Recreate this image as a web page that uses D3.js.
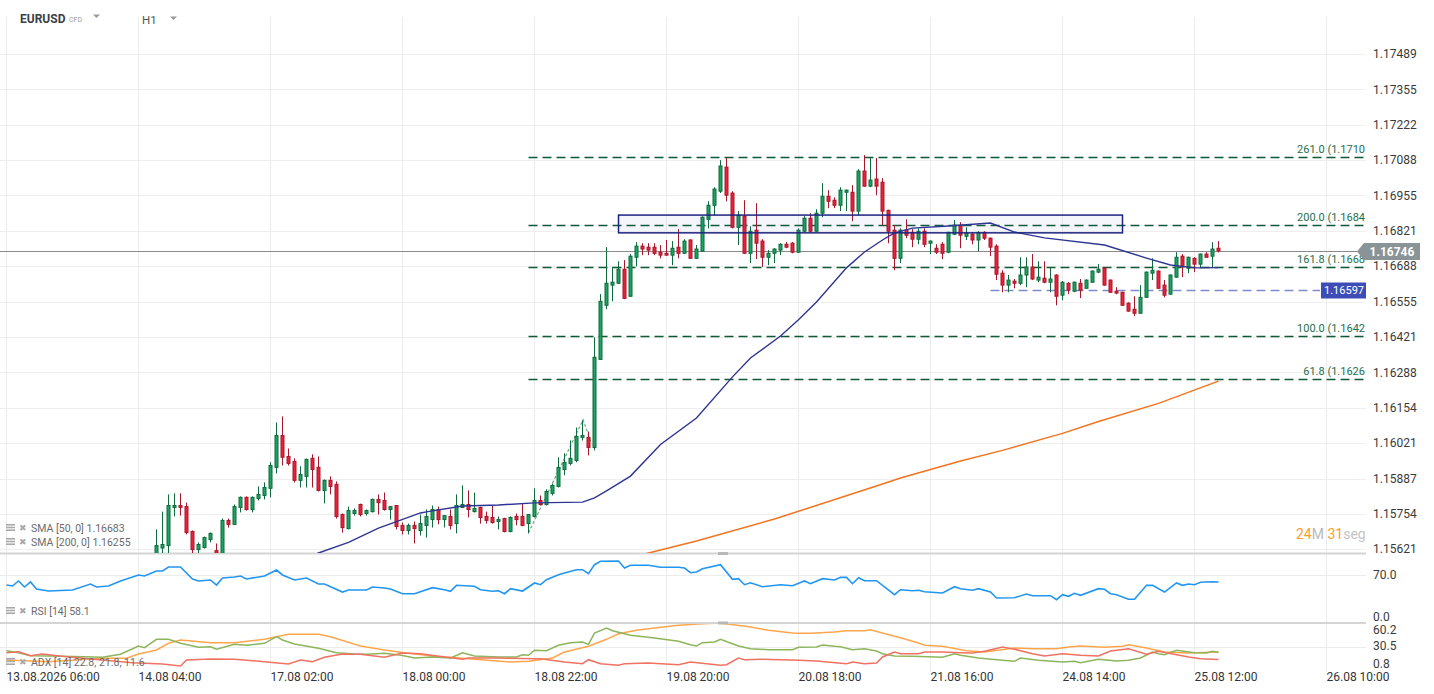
<!DOCTYPE html>
<html>
<head>
<meta charset="utf-8">
<script src="https://cdnjs.cloudflare.com/ajax/libs/d3/7.8.5/d3.min.js"></script>
<style>
  body { margin: 0; background: #fff; }
  svg text { font-family: Roboto, "Noto Sans", sans-serif; }
</style>
</head>
<body>
<svg id="chart" width="1434" height="694"></svg>
<script>

// ---- data ----
// hourly candles, first one sits at bar index 25 (13.08 06:00 = bar 0)
var firstBar = 25;
var opens = [1.15578,1.15626,1.15635,1.15779,1.15786,1.15782,1.15688,1.15620,1.15628,1.15658,
  1.15616,1.15586,1.15730,1.15715,1.15779,1.15817,1.15771,1.15813,1.15824,1.15851,
  1.15930,1.16050,1.15971,1.15952,1.15881,1.15896,1.15964,1.15930,1.15843,1.15881,
  1.15866,1.15752,1.15699,1.15756,1.15790,1.15756,1.15763,1.15809,1.15805,1.15771,
  1.15786,1.15711,1.15692,1.15711,1.15692,1.15711,1.15733,1.15771,1.15733,1.15745,
  1.15718,1.15779,1.15790,1.15763,1.15779,1.15745,1.15741,1.15726,1.15737,1.15688,
  1.15745,1.15745,1.15718,1.15745,1.15805,1.15790,1.15832,1.15858,1.15922,1.15945,
  1.15956,1.16043,1.16043,1.16005,1.16337,1.16541,1.16617,1.16624,1.16677,1.16575,
  1.16722,1.16764,1.16760,1.16760,1.16741,1.16737,1.16730,1.16760,1.16737,1.16787,
  1.16718,1.16745,1.16865,1.16918,1.16971,1.17062,1.16964,1.16835,1.16877,1.16737,
  1.16824,1.16783,1.16722,1.16737,1.16749,1.16771,1.16775,1.16741,1.16820,1.16869,
  1.16820,1.16888,1.16952,1.16937,1.16918,1.16967,1.16967,1.16896,1.17047,1.16990,
  1.17017,1.17005,1.16899,1.16824,1.16718,1.16824,1.16816,1.16790,1.16820,1.16775,
  1.16756,1.16771,1.16741,1.16809,1.16843,1.16801,1.16809,1.16787,1.16816,1.16794,
  1.16764,1.16662,1.16617,1.16632,1.16624,1.16655,1.16685,1.16636,1.16643,1.16628,
  1.16655,1.16579,1.16624,1.16594,1.16624,1.16605,1.16628,1.16666,1.16681,1.16636,
  1.16594,1.16590,1.16549,1.16526,1.16511,1.16571,1.16662,1.16670,1.16617,1.16583,
  1.16647,1.16726,1.16681,1.16718,1.16696,1.16734,1.16726,1.16756];
var highs = [1.15696,1.15763,1.15828,1.15832,1.15832,1.15797,1.15692,1.15647,1.15669,1.15684,
  1.15643,1.15737,1.15737,1.15790,1.15820,1.15820,1.15820,1.15858,1.15873,1.15949,
  1.16099,1.16122,1.16001,1.15964,1.15934,1.15963,1.15979,1.15971,1.15884,1.15896,
  1.15877,1.15756,1.15782,1.15775,1.15793,1.15771,1.15812,1.15828,1.15835,1.15784,
  1.15788,1.15722,1.15718,1.15726,1.15752,1.15771,1.15786,1.15782,1.15750,1.15771,
  1.15828,1.15862,1.15843,1.15835,1.15782,1.15763,1.15786,1.15745,1.15740,1.15745,
  1.15756,1.15794,1.15754,1.15851,1.15824,1.15847,1.15869,1.15968,1.15983,1.16031,
  1.16080,1.16107,1.16065,1.16420,1.16583,1.16760,1.16685,1.16707,1.16711,1.16734,
  1.16779,1.16775,1.16775,1.16775,1.16768,1.16787,1.16783,1.16828,1.16790,1.16790,
  1.16768,1.16876,1.16933,1.16986,1.17088,1.17096,1.16971,1.16896,1.16937,1.16839,
  1.16926,1.16790,1.16749,1.16756,1.16775,1.16779,1.16779,1.16831,1.16877,1.16888,
  1.16903,1.17001,1.16975,1.16948,1.16986,1.16977,1.16994,1.17054,1.17107,1.17096,
  1.17096,1.17020,1.16901,1.16843,1.16831,1.16865,1.16828,1.16831,1.16831,1.16785,
  1.16771,1.16779,1.16818,1.16862,1.16854,1.16835,1.16816,1.16820,1.16820,1.16796,
  1.16771,1.16673,1.16655,1.16640,1.16722,1.16722,1.16734,1.16707,1.16707,1.16681,
  1.16658,1.16632,1.16628,1.16630,1.16640,1.16638,1.16672,1.16696,1.16683,1.16638,
  1.16609,1.16592,1.16552,1.16575,1.16617,1.16668,1.16718,1.16672,1.16636,1.16657,
  1.16741,1.16734,1.16724,1.16722,1.16736,1.16741,1.16779,1.16783];
var lows = [1.15541,1.15559,1.15605,1.15745,1.15748,1.15677,1.15605,1.15605,1.15624,1.15647,
  1.15571,1.15571,1.15703,1.15715,1.15760,1.15767,1.15760,1.15805,1.15809,1.15817,
  1.15907,1.15937,1.15937,1.15873,1.15854,1.15854,1.15854,1.15839,1.15794,1.15828,
  1.15737,1.15684,1.15696,1.15748,1.15745,1.15748,1.15760,1.15752,1.15767,1.15733,
  1.15696,1.15677,1.15677,1.15643,1.15673,1.15665,1.15703,1.15715,1.15703,1.15696,
  1.15681,1.15776,1.15741,1.15760,1.15718,1.15718,1.15718,1.15696,1.15685,1.15685,
  1.15711,1.15708,1.15681,1.15741,1.15786,1.15786,1.15824,1.15854,1.15900,1.15937,
  1.15949,1.16031,1.15975,1.15994,1.16335,1.16526,1.16556,1.16621,1.16564,1.16572,
  1.16688,1.16730,1.16730,1.16730,1.16718,1.16728,1.16692,1.16718,1.16734,1.16716,
  1.16715,1.16743,1.16831,1.16880,1.16964,1.16933,1.16831,1.16768,1.16735,1.16700,
  1.16715,1.16685,1.16692,1.16700,1.16730,1.16756,1.16737,1.16739,1.16818,1.16818,
  1.16818,1.16873,1.16907,1.16907,1.16896,1.16896,1.16858,1.16880,1.16988,1.16986,
  1.16956,1.16843,1.16775,1.16673,1.16700,1.16794,1.16760,1.16771,1.16760,1.16734,
  1.16734,1.16715,1.16737,1.16805,1.16756,1.16787,1.16771,1.16745,1.16787,1.16726,
  1.16636,1.16590,1.16590,1.16605,1.16617,1.16609,1.16636,1.16628,1.16624,1.16590,
  1.16541,1.16560,1.16583,1.16590,1.16568,1.16603,1.16626,1.16662,1.16615,1.16588,
  1.16583,1.16539,1.16517,1.16500,1.16509,1.16569,1.16636,1.16603,1.16571,1.16581,
  1.16645,1.16647,1.16662,1.16666,1.16681,1.16720,1.16681,1.16740];
var closes = [1.15635,1.15639,1.15786,1.15786,1.15779,1.15684,1.15620,1.15639,1.15665,1.15681,
  1.15586,1.15730,1.15715,1.15782,1.15817,1.15771,1.15817,1.15828,1.15854,1.15937,
  1.16050,1.15968,1.15945,1.15881,1.15903,1.15960,1.15922,1.15843,1.15881,1.15858,
  1.15745,1.15703,1.15767,1.15767,1.15752,1.15767,1.15809,1.15797,1.15771,1.15782,
  1.15707,1.15692,1.15711,1.15699,1.15718,1.15745,1.15771,1.15733,1.15748,1.15711,
  1.15786,1.15790,1.15771,1.15775,1.15741,1.15730,1.15722,1.15733,1.15688,1.15741,
  1.15733,1.15711,1.15752,1.15805,1.15790,1.15839,1.15862,1.15930,1.15949,1.15964,
  1.16046,1.16050,1.16005,1.16345,1.16556,1.16624,1.16628,1.16677,1.16567,1.16726,
  1.16764,1.16753,1.16749,1.16737,1.16730,1.16730,1.16756,1.16737,1.16783,1.16718,
  1.16753,1.16873,1.16918,1.16979,1.17066,1.16956,1.16835,1.16880,1.16737,1.16820,
  1.16775,1.16722,1.16737,1.16753,1.16771,1.16760,1.16741,1.16824,1.16869,1.16820,
  1.16888,1.16952,1.16933,1.16918,1.16975,1.16975,1.16896,1.17047,1.16990,1.17013,
  1.16990,1.16896,1.16820,1.16718,1.16824,1.16805,1.16790,1.16820,1.16771,1.16783,
  1.16741,1.16737,1.16816,1.16843,1.16805,1.16812,1.16787,1.16816,1.16794,1.16760,
  1.16658,1.16617,1.16636,1.16624,1.16655,1.16685,1.16640,1.16647,1.16628,1.16640,
  1.16575,1.16628,1.16598,1.16628,1.16598,1.16636,1.16670,1.16677,1.16617,1.16590,
  1.16587,1.16541,1.16519,1.16511,1.16571,1.16666,1.16673,1.16605,1.16579,1.16655,
  1.16722,1.16685,1.16722,1.16696,1.16734,1.16722,1.16753,1.16746];

// moving averages, [bar, price]
var sma50 = [[50,1.15588],[52,1.15607],[57,1.15647],[62,1.15701],[69,1.15758],[70,1.15762],
  [76,1.15784],[82,1.15788],[88,1.15796],[96,1.15799],[98,1.15815],[100,1.15841],[104,1.15897],
  [109,1.16016],[115,1.16116],[121,1.16271],[124,1.16342],[129,1.16425],[132,1.16486],
  [135,1.16553],[140,1.16682],[143,1.16742],[146,1.16787],[148,1.16814],[151,1.16832],
  [157,1.16840],[164,1.16851],[168,1.16817],[173,1.16795],[183,1.16768],[190,1.16719],
  [194,1.16693],[198,1.16682],[202,1.16683]];
var sma200 = [[104,1.15590],[107,1.15607],[115,1.15652],[128,1.15735],[146,1.15867],
  [149,1.15890],[159,1.15954],[166,1.15994],[176,1.16058],[182,1.16103],[192,1.16171],
  [202,1.16255]];

// RSI(14), [bar, value]
var rsi = [[0,53.2],[1,51.6],[2,59.7],[3,50.0],[4,58.1],[5,46.8],[7,43.5],[11,45.2],[14,54.8],
  [15,50.0],[17,51.6],[19,59.7],[22,69.4],[23,67.7],[25,75.8],[26,75.8],[27,82.3],[29,82.3],
  [31,62.9],[32,59.7],[34,61.3],[35,53.2],[36,64.5],[38,66.1],[39,67.7],[40,62.9],[43,67.7],
  [45,77.4],[46,69.4],[48,61.3],[50,64.5],[52,54.8],[53,54.8],[56,41.9],[57,45.2],[60,45.2],
  [61,50.0],[63,48.4],[64,46.8],[66,39.2],[68,39.2],[71,48.9],[73,45.6],[74,43.1],[75,52.7],
  [78,51.1],[79,45.6],[81,43.1],[82,44.0],[83,39.2],[84,47.3],[86,43.5],[88,56.5],[89,53.7],
  [90,61.8],[92,69.8],[93,72.6],[95,77.9],[96,77.9],[97,71.5],[98,86.0],[99,91.5],[102,91.9],
  [103,80.6],[104,85.0],[107,85.0],[109,81.8],[112,81.8],[113,80.6],[114,73.1],[115,74.2],
  [116,79.5],[119,86.0],[121,62.4],[122,63.4],[123,53.7],[124,56.9],[126,50.5],[129,53.7],
  [131,52.1],[133,59.7],[134,55.3],[136,63.4],[138,61.3],[139,65.6],[140,65.6],[141,55.3],
  [142,65.0],[143,60.2],[145,60.2],[148,37.6],[149,45.6],[151,44.0],[152,44.7],[153,42.4],
  [156,40.3],[158,50.5],[159,47.3],[161,44.7],[162,47.3],[164,41.9],[165,32.3],[168,32.7],
  [170,38.7],[171,36.0],[174,36.0],[175,29.5],[176,37.6],[177,35.0],[178,39.8],[179,36.6],
  [182,47.3],[183,46.3],[184,39.2],[185,37.6],[187,30.2],[188,30.2],[190,52.7],[191,52.7],
  [193,41.9],[195,56.5],[196,52.7],[197,54.8],[198,53.7],[199,57.6],[201,58.5],[202,58.1]];

// ADX(14): adx line, +DI, -DI  [bar, value]
var adx = [[0,10.9],[7,8.3],[16,13.4],[20,13.4],[22,19.7],[25,25.6],[27,35.5],[29,40.4],
  [34,36.4],[38,36.4],[43,41.4],[47,48.8],[52,48.8],[54,45.3],[59,31.5],[63,25.6],[66,21.9],
  [71,16.8],[77,12.8],[84,7.9],[87,8.9],[91,13.8],[93,22.7],[97,31.1],[100,41.4],[102,49.7],
  [105,54.7],[108,58.1],[112,62.1],[116,64.5],[119,65.5],[124,59.6],[127,54.7],[131,50.7],
  [132,50.3],[134,50.3],[138,52.2],[140,54.1],[143,54.1],[144,55.6],[148,45.9],[149,43.8],
  [152,36.0],[153,32.6],[156,31.1],[160,24.6],[163,22.7],[168,28.6],[171,27.5],[175,27.5],
  [177,30.1],[179,31.5],[183,29.6],[186,31.1],[187,33.5],[190,28.6],[193,22.7],[197,21.2],
  [202,22.8]];
var diPlus = [[0,24.6],[2,21.6],[4,17.2],[7,16.8],[13,15.7],[16,14.8],[19,19.3],[22,31.5],
  [23,29.0],[25,41.4],[27,41.4],[29,35.5],[32,29.6],[34,30.5],[35,26.7],[38,34.0],[40,32.6],
  [43,35.5],[45,45.3],[46,40.4],[48,34.5],[52,28.1],[55,21.6],[58,19.7],[60,19.3],[63,20.7],
  [66,17.5],[68,13.8],[71,15.3],[74,13.8],[76,21.6],[78,16.8],[82,15.3],[85,15.3],[86,18.7],
  [87,17.8],[88,25.2],[90,24.6],[92,32.6],[94,36.4],[96,37.4],[97,34.0],[98,50.7],[100,58.1],
  [101,54.1],[104,47.3],[108,43.4],[112,38.5],[114,33.5],[115,31.5],[116,36.4],[118,37.4],
  [119,41.4],[122,31.5],[124,27.5],[127,26.1],[131,26.1],[132,29.6],[135,30.1],[136,33.0],
  [138,31.1],[139,30.5],[141,26.1],[143,27.5],[145,24.1],[146,20.2],[148,16.8],[151,16.3],
  [156,14.8],[158,20.2],[159,17.8],[162,13.8],[166,10.4],[168,8.9],[169,13.8],[172,10.4],
  [176,7.9],[178,8.9],[179,6.9],[182,11.9],[185,9.4],[187,10.4],[189,13.8],[191,22.7],
  [192,20.2],[193,18.7],[195,25.2],[198,21.6],[200,21.2],[201,23.7],[202,21.8]];
var diMinus = [[0,21.6],[2,23.1],[4,17.2],[6,19.7],[10,15.7],[16,10.9],[21,6.9],[26,4.9],
  [29,2.0],[30,10.9],[34,12.3],[38,11.9],[43,8.3],[47,4.9],[49,10.9],[51,8.3],[53,14.8],
  [56,19.7],[59,19.3],[63,14.8],[66,21.2],[69,20.2],[73,15.3],[76,11.9],[77,13.8],[82,13.8],
  [88,12.8],[89,12.8],[93,7.9],[96,5.4],[97,11.3],[99,5.4],[102,3.0],[103,5.4],[107,6.4],
  [112,3.9],[114,7.9],[119,3.0],[120,3.9],[122,13.8],[123,11.3],[126,11.9],[132,10.4],
  [135,9.4],[140,5.4],[141,7.9],[143,5.4],[145,6.4],[146,15.3],[148,22.7],[149,20.2],
  [152,20.2],[153,22.7],[156,22.7],[159,21.6],[161,21.2],[163,23.7],[166,30.1],[168,26.7],
  [171,20.2],[173,16.8],[176,20.2],[179,17.8],[182,16.8],[184,24.1],[187,27.5],[190,19.3],
  [192,23.7],[197,15.3],[199,12.8],[202,11.6]];

// axis texts
var priceTicks = ["1.17489","1.17355","1.17222","1.17088","1.16955","1.16821","1.16688",
  "1.16555","1.16421","1.16288","1.16154","1.16021","1.15887","1.15754","1.15621"];
var timeBars = [0,22,44,66,88,110,132,154,176,198,220];
var timeLabels = ["13.08.2026 06:00","14.08 04:00","17.08 02:00","18.08 00:00","18.08 22:00",
  "19.08 20:00","20.08 18:00","21.08 16:00","24.08 14:00","25.08 12:00","26.08 10:00"];
var rsiTicks = [70.0, 0.0];
var adxTicks = [60.2, 30.5, 0.8];

// drawings on the chart
var fibLevels = [261.0, 200.0, 161.8, 100.0, 61.8];
var fibZero = 1.16005, fibHundred = 1.16425, fibStartBar = 87;
var alertPrice = 1.16597, alertStartBar = 164;
var boxBars = [102, 186], boxPrices = [1.16881, 1.16814];
var trendPen = [[87,1.15683],[96.1,1.16109],[97.5,1.16021]];
var lastPrice = "1.16746";

// ---- layout ----
var W = 1366;
var mainTop = 17, mainBot = 553, rsiTop = 555, rsiBot = 622, adxTop = 624, adxBot = 672;

var svg = d3.select("#chart");
var defs = svg.append("defs");
function clip(id, y0, y1){
  defs.append("clipPath").attr("id", id).append("rect")
    .attr("x", 0).attr("y", y0).attr("width", W).attr("height", y1 - y0);
}
clip("cMain", mainTop, mainBot);
clip("cRsi", rsiTop, rsiBot);
clip("cAdx", adxTop, adxBot);

var x = d3.scaleLinear().domain([0, 220]).range([6.5, 1326.5]);
var y = d3.scaleLinear().domain([1.15621, 1.17489]).range([549.3, 53.8]);
var yr = d3.scaleLinear().domain([0, 70]).range([618, 574.6]);
var ya = d3.scaleLinear().domain([0.8, 60.2]).range([666.8, 626.6]);

// grid
var grid = svg.append("g");
grid.selectAll(".hg").data(priceTicks).enter().append("line")
  .attr("x1", 0).attr("x2", W)
  .attr("y1", function(d){ return Math.round(y(+d)) + 0.5; })
  .attr("y2", function(d){ return Math.round(y(+d)) + 0.5; })
  .attr("stroke", "#efefef");
grid.selectAll(".vg").data(timeBars).enter().append("line")
  .attr("x1", function(d){ return x(d); }).attr("x2", function(d){ return x(d); })
  .attr("y1", mainTop).attr("y2", adxBot)
  .attr("stroke", "#ececec");
grid.append("line").attr("x1", 0).attr("x2", W).attr("y1", Math.round(yr(70)) + 0.5)
  .attr("y2", Math.round(yr(70)) + 0.5).attr("stroke", "#ececec");
grid.append("line").attr("x1", 0).attr("x2", W).attr("y1", Math.round(ya(30.5)) + 0.5)
  .attr("y2", Math.round(ya(30.5)) + 0.5).attr("stroke", "#ececec");

// panel separators
[553.5, 623].forEach(function(sy){
  svg.append("line").attr("x1", 0).attr("x2", W).attr("y1", sy).attr("y2", sy)
    .attr("stroke", "#d4d4d4").attr("stroke-width", 2);
  svg.append("rect").attr("x", 718).attr("y", sy - 1.5).attr("width", 10).attr("height", 3)
    .attr("fill", "#b8b8b8");
});

var main = svg.append("g").attr("clip-path", "url(#cMain)");

// last price line
var lastY = Math.round(y(closes[closes.length - 1])) + 0.5;
main.append("line").attr("x1", 0).attr("x2", W).attr("y1", lastY).attr("y2", lastY)
  .attr("stroke", "#8a8a8a").attr("stroke-width", 1.2);

// fibonacci levels
var fibG = main.append("g");
fibLevels.forEach(function(lv){
  var p = fibZero + (fibHundred - fibZero) * lv / 100;
  var ly = Math.round(y(p)) + 0.5;
  fibG.append("line").attr("x1", x(fibStartBar)).attr("x2", W).attr("y1", ly).attr("y2", ly)
    .attr("stroke", "#0f5a35").attr("stroke-width", 1.3).attr("stroke-dasharray", "9,5");
  fibG.append("text").attr("x", 1365).attr("y", ly - 5).attr("text-anchor", "end")
    .attr("font-size", "11px").attr("fill", "#24704c")
    .text(lv.toFixed(1) + " (" + (Math.floor(p * 1e4) / 1e4).toFixed(4));
});

// alert line
var ay = Math.round(y(alertPrice)) + 0.5;
main.append("line").attr("x1", x(alertStartBar)).attr("x2", 1320).attr("y1", ay).attr("y2", ay)
  .attr("stroke", "#7f8bcc").attr("stroke-width", 1.5).attr("stroke-dasharray", "9,5");

// pen drawing
main.append("path").datum(trendPen)
  .attr("d", d3.line().x(function(d){ return x(d[0]); }).y(function(d){ return y(d[1]); }))
  .attr("fill", "none").attr("stroke", "#5fae7a").attr("stroke-width", 1.2)
  .attr("stroke-dasharray", "3,2");

// candles
var bars = d3.range(opens.length).map(function(i){
  return { k: firstBar + i, o: opens[i], h: highs[i], l: lows[i], c: closes[i] };
});
var cg = main.selectAll(".candle").data(bars).enter().append("g");
cg.append("line")
  .attr("x1", function(d){ return x(d.k); }).attr("x2", function(d){ return x(d.k); })
  .attr("y1", function(d){ return y(d.h); }).attr("y2", function(d){ return y(d.l); })
  .attr("stroke", function(d){ return d.c >= d.o ? "#0d6b3d" : "#a8172b"; });
cg.append("rect")
  .attr("x", function(d){ return x(d.k) - 1.5; })
  .attr("width", 3)
  .attr("y", function(d){ return y(Math.max(d.o, d.c)); })
  .attr("height", function(d){ return Math.max(1, Math.abs(y(d.o) - y(d.c))); })
  .attr("fill", function(d){ return d.c >= d.o ? "#21a066" : "#e4243b"; })
  .attr("stroke", function(d){ return d.c >= d.o ? "#0d6b3d" : "#a8172b"; })
  .attr("stroke-width", 1);

// moving averages
var pl = d3.line().x(function(d){ return x(d[0]); }).y(function(d){ return y(d[1]); });
main.append("path").datum(sma200).attr("d", pl).attr("fill", "none")
  .attr("stroke", "#f4731f").attr("stroke-width", 1.5);
main.append("path").datum(sma50).attr("d", pl).attr("fill", "none")
  .attr("stroke", "#2e3592").attr("stroke-width", 1.4);

// zone box
main.append("rect")
  .attr("x", x(boxBars[0])).attr("width", x(boxBars[1]) - x(boxBars[0]))
  .attr("y", y(boxPrices[0])).attr("height", y(boxPrices[1]) - y(boxPrices[0]))
  .attr("fill", "rgba(63,81,181,0.05)").attr("stroke", "#1d2480").attr("stroke-width", 1.5);

// RSI panel
svg.append("g").attr("clip-path", "url(#cRsi)").append("path").datum(rsi)
  .attr("d", d3.line().x(function(d){ return x(d[0]); }).y(function(d){ return yr(d[1]); }))
  .attr("fill", "none").attr("stroke", "#2196f3").attr("stroke-width", 1.6);

// ADX panel
var ag = svg.append("g").attr("clip-path", "url(#cAdx)");
var al = d3.line().x(function(d){ return x(d[0]); }).y(function(d){ return ya(d[1]); });
[[adx, "#ffa64d"], [diPlus, "#8cb55c"], [diMinus, "#ef7262"]].forEach(function(s){
  ag.append("path").datum(s[0]).attr("d", al).attr("fill", "none")
    .attr("stroke", s[1]).attr("stroke-width", 1.5);
});

// right axis
var axis = svg.append("g").attr("font-size", "12px").attr("fill", "#3a3a3a");
axis.selectAll(".pt").data(priceTicks).enter().append("text")
  .attr("x", 1373).attr("y", function(d){ return y(+d) + 1; })
  .attr("dominant-baseline", "middle").text(function(d){ return d; });
axis.selectAll(".rt").data(rsiTicks).enter().append("text")
  .attr("x", 1373).attr("y", function(d){ return d === 0 ? 618.3 : yr(d) + 1; })
  .attr("dominant-baseline", "middle").text(function(d){ return d.toFixed(1); });
axis.selectAll(".at").data(adxTicks).enter().append("text")
  .attr("x", 1373).attr("y", function(d, i){ return [630.7, 646.7, 664.7][i]; })
  .attr("dominant-baseline", "middle").text(function(d){ return d.toFixed(1); });

// bottom axis
axis.selectAll(".tt").data(timeLabels).enter().append("text")
  .attr("x", function(d, i){ return x(timeBars[i]); }).attr("y", 678)
  .attr("dominant-baseline", "middle").attr("fill", "#333").text(function(d){ return d; });

// price tags
svg.append("path")
  .attr("d", "M1357," + lastY + "L1364," + (lastY - 8.5) + "L1420," + (lastY - 8.5) +
    "L1420," + (lastY + 8.5) + "L1364," + (lastY + 8.5) + "Z")
  .attr("fill", "#8a9396");
svg.append("text").attr("x", 1392).attr("y", lastY + 1).attr("text-anchor", "middle")
  .attr("dominant-baseline", "middle").attr("font-size", "12px").attr("font-weight", "bold")
  .attr("fill", "#fff").text(lastPrice);
svg.append("rect").attr("x", 1321).attr("y", ay - 8).attr("width", 45).attr("height", 16)
  .attr("fill", "#3d4db7");
svg.append("text").attr("x", 1324).attr("y", ay + 1).attr("dominant-baseline", "middle")
  .attr("font-size", "11px").attr("fill", "#fff").text(alertPrice.toFixed(5));

// indicator legends
function legend(ly, label){
  var g = svg.append("g");
  [0, 3, 6].forEach(function(o){
    g.append("rect").attr("x", 6).attr("y", ly - 4 + o * 0.9).attr("width", 9).attr("height", 1.6)
      .attr("fill", "#a9a9a9");
  });
  g.append("text").attr("x", 19).attr("y", ly + 0.5).attr("dominant-baseline", "middle")
    .attr("font-size", "9px").attr("font-family", "DejaVu Sans").attr("fill", "#a9a9a9").text("\u2716");
  g.append("text").attr("x", 31).attr("y", ly + 1).attr("dominant-baseline", "middle")
    .attr("font-size", "10.5px").attr("fill", "#6b6b6b").text(label);
}
legend(528, "SMA [50, 0] " + sma50[sma50.length - 1][1].toFixed(5));
legend(542, "SMA [200, 0] " + sma200[sma200.length - 1][1].toFixed(5));
legend(611, "RSI [14] " + rsi[rsi.length - 1][1].toFixed(1));
legend(662, "ADX [14] " + adx[adx.length - 1][1].toFixed(1) + ", " +
  diPlus[diPlus.length - 1][1].toFixed(1) + ", " + diMinus[diMinus.length - 1][1].toFixed(1));

// candle countdown
var cd = svg.append("text").attr("x", 1296).attr("y", 535).attr("dominant-baseline", "middle")
  .attr("font-size", "14px");
cd.append("tspan").attr("fill", "#ff9d2e").text("24");
cd.append("tspan").attr("fill", "#b9b9b9").text("M ");
cd.append("tspan").attr("fill", "#ff9d2e").text("31");
cd.append("tspan").attr("fill", "#c4c4c4").text("seg");

// header
svg.append("text").attr("x", 20).attr("y", 23).attr("font-size", "12px").attr("font-weight", "bold")
  .attr("fill", "#3b4045").text("EURUSD");
svg.append("text").attr("x", 69).attr("y", 21.5).attr("font-size", "7px").attr("fill", "#9a9a9a")
  .text("CFD");
svg.append("text").attr("x", 142).attr("y", 24).attr("font-size", "11.5px").attr("fill", "#555")
  .text("H1");
[[93, 14.5], [170, 16.5]].forEach(function(t){
  svg.append("path").attr("d", "M" + t[0] + "," + t[1] + "l7,0l-3.5,3.5z").attr("fill", "#9a9a9a");
});

</script>
</body>
</html>
